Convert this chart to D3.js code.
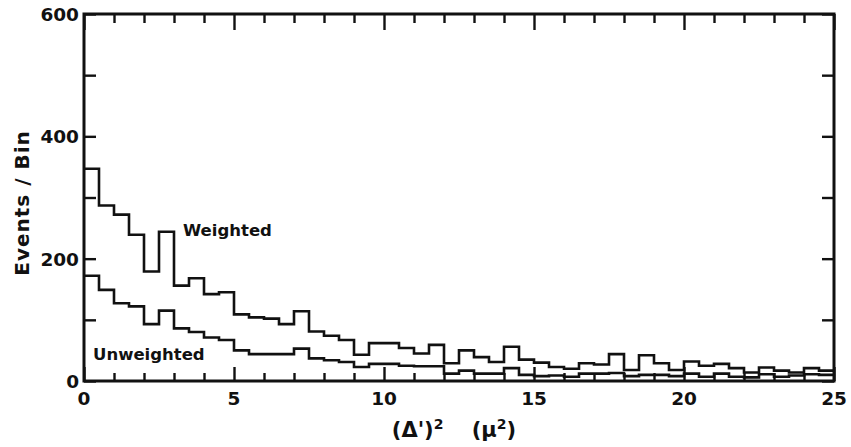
<!DOCTYPE html>
<html>
<head>
<meta charset="utf-8">
<script src="https://cdn.jsdelivr.net/npm/d3@7"></script>
<style>
  html, body { margin: 0; padding: 0; background: #fff; }
  svg { display: block; }
  text { font-family: "DejaVu Sans", "Liberation Sans", sans-serif; font-weight: bold; fill: #111; }
</style>
</head>
<body>
<svg id="chart" width="851" height="447"></svg>
<script>
// ---- data ----
const binWidth = 0.5;                       // bin width in (Δ')² units
const binStarts = d3.range(0, 25, binWidth); // 50 bins from 0 to 25

const weighted = [
  347, 287, 272, 239, 179, 244, 156, 168, 142, 145,
  109, 104, 102,  93, 114,  81,  74,  67,  43,  62,
   62,  54,  45,  59,  29,  50,  39,  31,  56,  35,
   30,  23,  20,  29,  27,  44,  18,  42,  29,  18,
   32,  25,  28,  21,  14,  22,  17,  14,  21,  17
];
const unweighted = [
  172, 149, 127, 122,  93, 115,  86,  80,  71,  67,
   50,  44,  44,  44,  53,  37,  34,  31,  23,  28,
   28,  25,  24,  24,  12,  17,  12,  12,  21,  10,
    8,   9,   7,  12,  12,  13,   8,  10,  10,   8,
   12,   7,  12,   7,   6,  11,   7,   9,  11,  10
];
const seriesLabels = ["Weighted", "Unweighted"];
const xTickLabels = [0, 5, 10, 15, 20, 25];
const yTickLabels = [0, 200, 400, 600];
const xMinorTicks = d3.range(0, 26, 1);
const yMinorTicks = d3.range(0, 601, 100);
const yTitle = "Events / Bin";

// ---- layout ----
const svg = d3.select("#chart");
const L = 84, R = 834, T = 14, B = 381;
const x = d3.scaleLinear().domain([0, 25]).range([L, R]);
const y = d3.scaleLinear().domain([0, 600]).range([B, T]);

// ---- histograms ----
const line = d3.line().x(d => x(d[0])).y(d => y(d[1])).curve(d3.curveStepAfter);
function steps(vals) {
  const pts = binStarts.map((s, i) => [s, vals[i]]);
  pts.push([25, vals[vals.length - 1]]);
  return pts;
}
[weighted, unweighted].forEach(vals => {
  svg.append("path")
    .attr("d", line(steps(vals)))
    .attr("fill", "none")
    .attr("stroke", "#111")
    .attr("stroke-width", 2.6)
    .attr("stroke-linejoin", "miter");
});

// ---- axes (ticks inward) ----
function styleTicks(g, majorTest, majorLen, minorLen, sign, horiz) {
  g.select(".domain").remove();
  g.selectAll(".tick line")
    .attr("stroke", "#111").attr("stroke-width", 2.4)
    .each(function(d) {
      const len = (majorTest(d) ? majorLen : minorLen) * sign;
      d3.select(this).attr(horiz ? "y2" : "x2", len);
    });
  g.selectAll(".tick text").remove();
}
const isMajX = d => d % 5 === 0;
svg.append("g").attr("transform", `translate(0,${B})`)
  .call(d3.axisBottom(x).tickValues(xMinorTicks))
  .call(g => styleTicks(g, isMajX, 14, 8, -1, true));
svg.append("g").attr("transform", `translate(0,${T})`)
  .call(d3.axisTop(x).tickValues(xMinorTicks))
  .call(g => styleTicks(g, isMajX, 16, 9, 1, true));
svg.append("g").attr("transform", `translate(${L},0)`)
  .call(d3.axisLeft(y).tickValues(yMinorTicks))
  .call(g => styleTicks(g, d => false, 12, 12, 1, false));
svg.append("g").attr("transform", `translate(${R},0)`)
  .call(d3.axisRight(y).tickValues(yMinorTicks))
  .call(g => styleTicks(g, d => false, 12, 12, -1, false));

// frame
svg.append("rect")
  .attr("x", L).attr("y", T).attr("width", R - L).attr("height", B - T)
  .attr("fill", "none").attr("stroke", "#111").attr("stroke-width", 3);

// tick labels
svg.append("g").selectAll("text").data(xTickLabels).join("text")
  .attr("x", d => x(d)).attr("y", 405)
  .attr("text-anchor", "middle").attr("font-size", 18.5)
  .text(d => d);
svg.append("g").selectAll("text").data(yTickLabels).join("text")
  .attr("x", 79).attr("y", d => y(d) + 7)
  .attr("text-anchor", "end").attr("font-size", 18.5)
  .text(d => d);

// axis titles
svg.append("text")
  .attr("transform", "translate(29,203) rotate(-90)")
  .attr("text-anchor", "middle").attr("font-size", 20).attr("letter-spacing", 1)
  .text(yTitle);

const xt = svg.append("text")
  .attr("x", 454).attr("y", 437)
  .attr("text-anchor", "middle").attr("font-size", 21);
xt.append("tspan").text("(Δ')");
xt.append("tspan").attr("dy", -8).attr("font-size", 14).text("2");
xt.append("tspan").attr("dy", 8).text("\u2003 (μ");
xt.append("tspan").attr("dy", -8).attr("font-size", 14).text("2");
xt.append("tspan").attr("dy", 8).text(")");

// series labels
svg.append("text").attr("x", 183).attr("y", 235.5).attr("font-size", 16.5)
  .text(seriesLabels[0]);
svg.append("text").attr("x", 93).attr("y", 360).attr("font-size", 16.5)
  .text(seriesLabels[1]);
</script>
</body>
</html>
